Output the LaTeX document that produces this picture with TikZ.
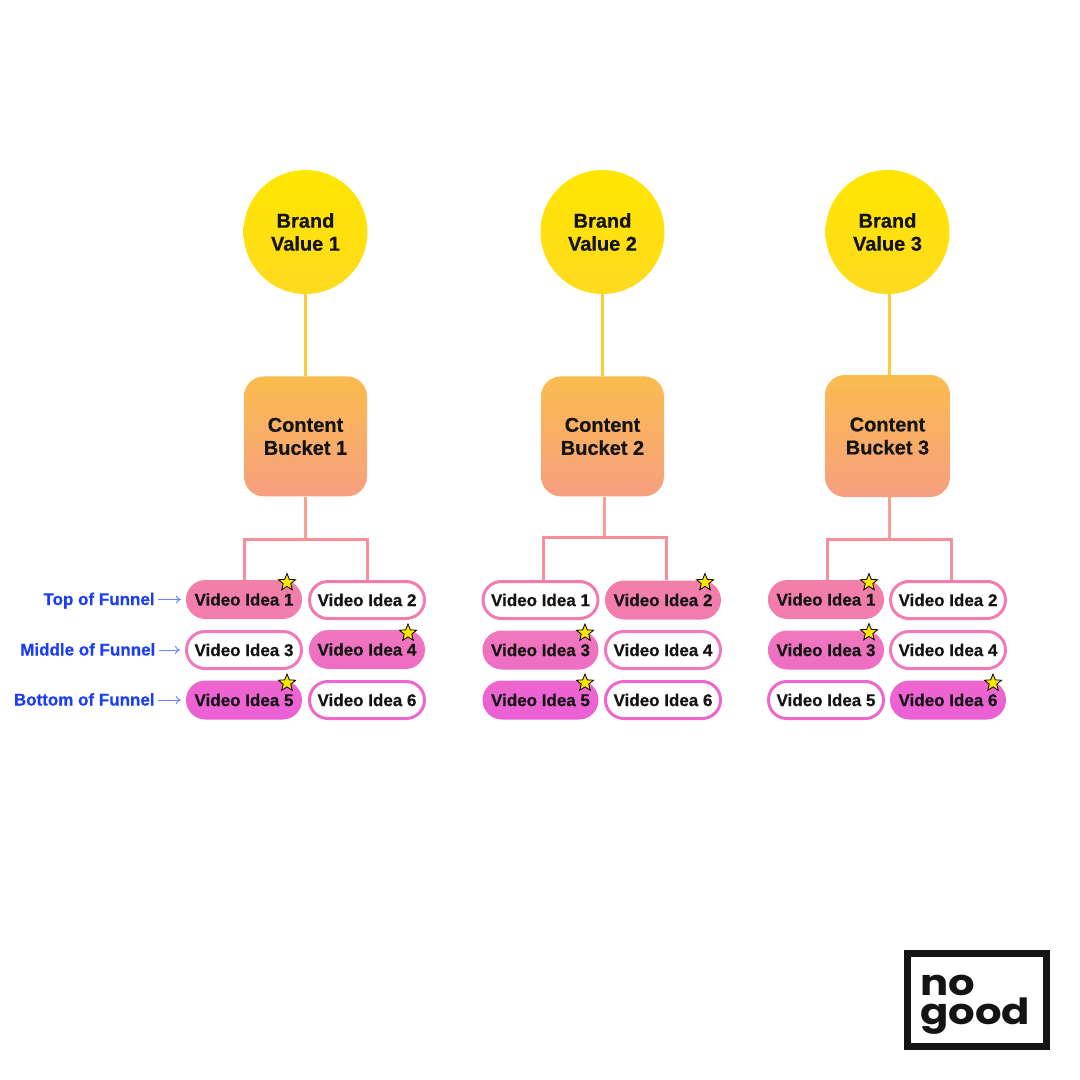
\documentclass[tikz,border=0pt]{standalone}
\usepackage{fontspec}
\setmainfont[BoldFeatures={FakeBold=0.5}]{Liberation Sans}
\newfontfamily\logofont[FakeStretch=1.16]{Poppins}
\usetikzlibrary{arrows,arrows.meta,%
                shapes,positioning}
\definecolor{inkblack}{HTML}{141414}
\definecolor{funnelblue}{HTML}{1A3DF5}
\definecolor{arrowblue}{HTML}{6F86F8}
\definecolor{brandtop}{HTML}{FFE600}
\definecolor{brandend}{HTML}{FFDA20}
\definecolor{buckettop}{HTML}{FBBC4E}
\definecolor{bucketend}{HTML}{F69F80}
\definecolor{valueline}{HTML}{FFCB3D}
\definecolor{trunkline}{HTML}{FAA091}
\definecolor{forkline}{HTML}{F78F9B}
\definecolor{starfill}{HTML}{FFE600}
\definecolor{rowA}{HTML}{F27FA8}
\definecolor{rowAb}{HTML}{F27CB0}
\definecolor{rowB}{HTML}{F078BC}
\definecolor{rowBb}{HTML}{EE6CC6}
\definecolor{rowC}{HTML}{ED66CE}
\definecolor{rowCb}{HTML}{EB5FD6}
\begin{document}
\begin{tikzpicture}[x = 1pt, y = -1pt]
  \useasboundingbox (0,0) rectangle (1080,1080);
  \tikzset{BrandStyle/.style   = {shape        = circle,
                                  top color    = brandtop,
                                  middle color = brandtop,
                                  bottom color = brandend,
                                  text         = inkblack,
                                  align        = center,
                                  inner sep    = 0pt,
                                  minimum size = 124pt,
                                  font         = \bfseries\fontsize{20}{23}\selectfont}}
  \tikzset{BucketStyle/.style  = {rectangle,
                                  rounded corners = 20pt,
                                  top color    = buckettop,
                                  bottom color = bucketend,
                                  text         = inkblack,
                                  align        = center,
                                  inner sep    = 0pt,
                                  minimum width  = 123pt,
                                  minimum height = 120pt,
                                  font         = \bfseries\fontsize{20}{23}\selectfont}}
  \tikzset{IdeaStyle/.style    = {rectangle,
                                  text         = inkblack,
                                  inner sep    = 0pt,
                                  font         = \bfseries\fontsize{17}{20}\selectfont}}
  \tikzset{PickStyle/.style    = {IdeaStyle,
                                  rounded corners = 19.4pt,
                                  minimum width  = 116pt,
                                  minimum height = 39pt}}
  \tikzset{OpenStyle/.style    = {IdeaStyle,
                                  rounded corners = 18.4pt,
                                  fill         = white,
                                  line width   = 3pt,
                                  minimum width  = 115pt,
                                  minimum height = 37pt}}
  \tikzset{PickA/.style = {PickStyle, top color = rowA, bottom color = rowAb}}
  \tikzset{PickB/.style = {PickStyle, top color = rowB, bottom color = rowBb}}
  \tikzset{PickC/.style = {PickStyle, top color = rowC, bottom color = rowCb}}
  \tikzset{OpenA/.style = {OpenStyle, draw = rowAb}}
  \tikzset{OpenB/.style = {OpenStyle, draw = rowB}}
  \tikzset{OpenC/.style = {OpenStyle, draw = rowC}}
  \tikzset{StarStyle/.style    = {star,
                                  star points      = 5,
                                  star point ratio = 2.3,
                                  fill             = starfill,
                                  draw             = black,
                                  line width       = 0.8pt,
                                  inner sep        = 0pt,
                                  minimum size     = 18pt}}
  \tikzset{FunnelStyle/.style  = {text        = funnelblue,
                                  inner sep   = 0pt,
                                  text height = 12pt,
                                  text depth  = 1pt,
                                  font        = \bfseries\fontsize{17}{20}\selectfont}}
  \tikzset{ArrowStyle/.style   = {-{To[length=5pt,width=8pt]},
                                  arrowblue,
                                  line width = 1pt,
                                  shorten <= 3pt,
                                  shorten >= 5pt}}
  \tikzset{ValueLine/.style    = {line width = 3pt, color = valueline}}
  \tikzset{TrunkLine/.style    = {line width = 3pt, color = trunkline}}
  \tikzset{ForkLine/.style     = {line width = 3pt, color = forkline}}
  \tikzset{LogoStyle/.style    = {text      = inkblack,
                                  inner sep = 0pt,
                                  anchor    = base west,
                                  font      = \logofont\bfseries\fontsize{36}{36}\selectfont}}

  % first column
  \node[BrandStyle] (BrandA) at (305.5,232) {Brand\\Value 1};
  \node[BucketStyle,below=82pt of BrandA] (BucketA) {Content\\Bucket 1};
  \node[PickA] (IdeaA1) at (244,599.5) {Video Idea 1};
  \node[OpenA] (IdeaA2) at (367,600)   {Video Idea 2};
  \node[OpenB] (IdeaA3) at (244,650)   {Video Idea 3};
  \node[PickB] (IdeaA4) at (367,649.5) {Video Idea 4};
  \node[PickC] (IdeaA5) at (244,700)   {Video Idea 5};
  \node[OpenC] (IdeaA6) at (367,700)   {Video Idea 6};

  % second column
  \node[BrandStyle] (BrandB) at (602.5,232) {Brand\\Value 2};
  \node[BucketStyle,below=82pt of BrandB] (BucketB) {Content\\Bucket 2};
  \node[OpenA] (IdeaB1) at (540.5,600) {Video Idea 1};
  \node[PickA] (IdeaB2) at (663,600)   {Video Idea 2};
  \node[PickB] (IdeaB3) at (540.5,650) {Video Idea 3};
  \node[OpenB] (IdeaB4) at (663,650)   {Video Idea 4};
  \node[PickC] (IdeaB5) at (540.5,700) {Video Idea 5};
  \node[OpenC] (IdeaB6) at (663,700)   {Video Idea 6};

  % third column
  \node[BrandStyle] (BrandC) at (887.5,232) {Brand\\Value 3};
  \node[BucketStyle,minimum width=125pt,minimum height=122pt] (BucketC) at (887.5,436) {Content\\Bucket 3};
  \node[PickA] (IdeaC1) at (826,599.5) {Video Idea 1};
  \node[OpenA] (IdeaC2) at (948,600)   {Video Idea 2};
  \node[PickB] (IdeaC3) at (826,650)   {Video Idea 3};
  \node[OpenB] (IdeaC4) at (948,650)   {Video Idea 4};
  \node[OpenC] (IdeaC5) at (826,700)   {Video Idea 5};
  \node[PickC] (IdeaC6) at (948,700)   {Video Idea 6};

  % connectors
  \coordinate (ForkA) at (305.5,539);
  \coordinate (ForkB) at (604,537);
  \coordinate (ForkC) at (889,539);
  \draw[ValueLine] (BrandA.south) -- (BucketA.north);
  \draw[ValueLine] (BrandB.south) -- (BucketB.north);
  \draw[ValueLine] (BrandC.south -| ForkC) -- (BucketC.north -| ForkC);
  \draw[TrunkLine] (BucketA.south) -- (ForkA);
  \draw[TrunkLine] (BucketB.south -| ForkB) -- (ForkB);
  \draw[TrunkLine] (BucketC.south -| ForkC) -- (ForkC);
  \draw[ForkLine] (IdeaA1.north) |- (ForkA) -| (IdeaA2.north);
  \draw[ForkLine] (IdeaB1.north) ++(2.5,0) |- (ForkB) -| ([xshift=3pt]IdeaB2.north);
  \draw[ForkLine] (IdeaC1.north) ++(1,0) |- (ForkC) -| ([xshift=3pt]IdeaC2.north);

  % funnel labels
  \node[FunnelStyle,left=31pt of IdeaA1] (FunnelTop) {Top of Funnel};
  \node[FunnelStyle,left=29.5pt of IdeaA3] (FunnelMid) {Middle of Funnel};
  \node[FunnelStyle,left=31pt of IdeaA5] (FunnelBot) {Bottom of Funnel};
  \draw[ArrowStyle] (FunnelTop.east) -- (IdeaA1.west);
  \draw[ArrowStyle] (FunnelMid.east) -- (IdeaA3.west);
  \draw[ArrowStyle] (FunnelBot.east) -- (IdeaA5.west);

  % stars
  \node[StarStyle] (StarA1) at (287,582.5) {};
  \node[StarStyle] (StarA4) at (408,633) {};
  \node[StarStyle] (StarA5) at (287,683) {};
  \node[StarStyle] (StarB2) at (705,582.5) {};
  \node[StarStyle] (StarB3) at (585,633) {};
  \node[StarStyle] (StarB5) at (585,683) {};
  \node[StarStyle] (StarC1) at (869,582.5) {};
  \node[StarStyle] (StarC3) at (869,632.5) {};
  \node[StarStyle] (StarC6) at (993,683) {};

  % logo
  \node[draw=inkblack,line width=7pt,minimum width=139pt,minimum height=93pt,inner sep=0pt] (Logo) at (977,1000) {};
  \node[LogoStyle] (LogoNo) at (920,995) {no};
  \node[LogoStyle] (LogoGood) at (920,1024) {good};
\end{tikzpicture}
\end{document}
